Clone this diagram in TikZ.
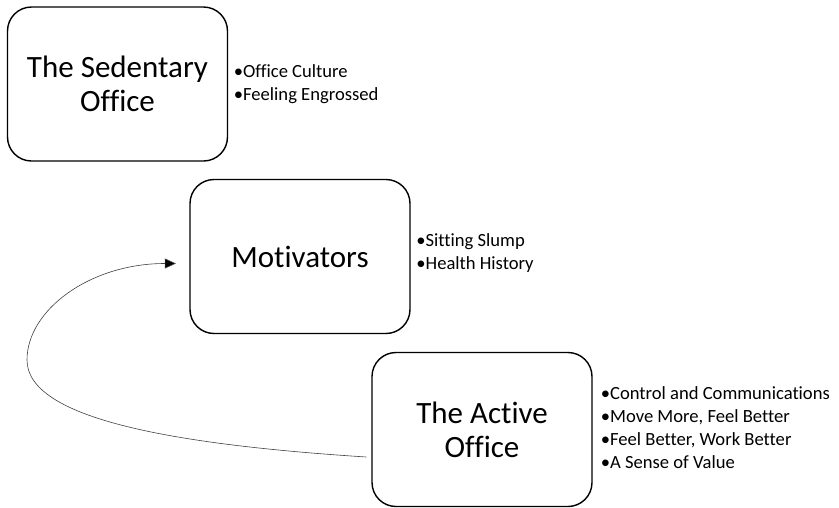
\documentclass[tikz,border=0pt]{standalone}
\usepackage{fontspec}
\setmainfont{Carlito}[Ligatures=NoCommon]
\usepackage{tikz}
\usetikzlibrary{positioning,calc,arrows.meta}

\begin{document}
\begin{tikzpicture}[x=1pt,y=1pt,
    stage/.style={draw, line width=1.4pt, rounded corners=24pt, minimum width=220pt, minimum height=154pt, align=center, font=\fontsize{31}{34}\selectfont},
    points/.style={anchor=west, inner sep=0pt, align=left, font=\fontsize{18.6}{23}\selectfont}]
    \useasboundingbox (0,0) rectangle (839,-507);

    % the three stages
    \node[stage] (sedentary) at (117.5,-84) {The Sedentary\\Office};
    \node[stage] (motivators) at (300,-256.5) {Motivators};
    \node[stage] (active) at (482,-429.5) {The Active\\Office};

    % bullet points beside each stage
    \node[points] (sedlist) at ($(sedentary.east)+(5.5,0)$) {•Office Culture\\•Feeling Engrossed};
    \node[points] (motlist) at ($(motivators.east)+(5.5,3)$) {•Sitting Slump\\•Health History};
    \node[points] (actlist) at ($(active.east)+(8,2)$) {•Control and Communications\\•Move More, Feel Better\\•Feel Better, Work Better\\•A Sense of Value};

    % loop back to the motivators
    \coordinate (loopend) at ($(motivators.west)+(-13.5,-7)$);
    \draw[line width=0.6pt, black!75, -{Triangle[length=11pt,width=10pt,fill=black]}]
        ([shift={(-5,-27.5)}]active.west) .. controls (180,-445) and (27,-420) .. (27,-360)
        .. controls (27,-310) and (90,-263.5) .. (loopend);
\end{tikzpicture}
\end{document}
